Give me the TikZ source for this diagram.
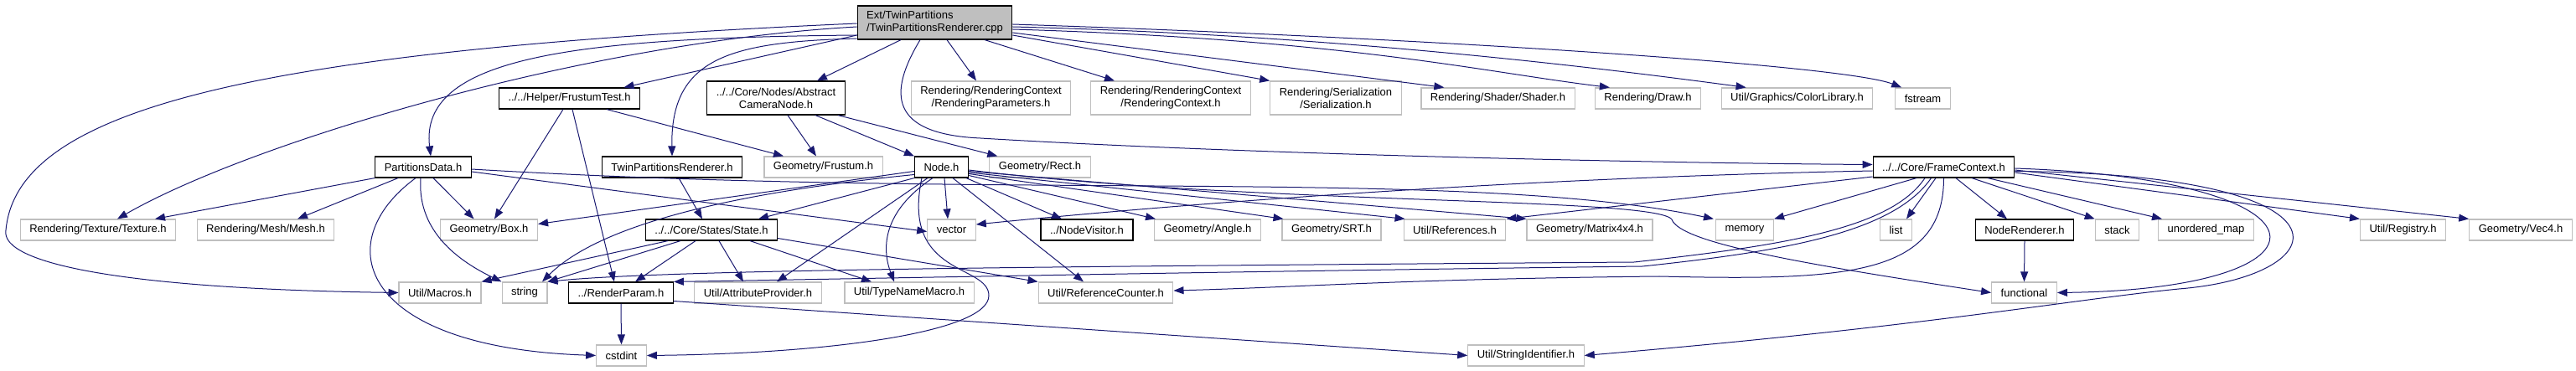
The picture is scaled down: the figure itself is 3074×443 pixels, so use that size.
\documentclass[tikz,border=0pt]{standalone}
\usepackage{fontspec}
\setsansfont{Liberation Sans}
\usetikzlibrary{arrows.meta}
\definecolor{edgeblue}{HTML}{191970}
\definecolor{extgrey}{HTML}{BFBFBF}
\definecolor{rootgrey}{HTML}{BFBFBF}

\begin{document}
\begin{tikzpicture}[
  x=1pt, y=-1pt,
  font=\sffamily\fontsize{13}{15}\selectfont,
  hdr/.style={draw=black, rectangle, line width=1.2pt, minimum height=25pt, inner xsep=11pt, inner ysep=2pt},
  ext/.style={hdr, draw=extgrey},
  twoline/.style={minimum height=40pt, align=center},
  rootbox/.style={hdr, fill=rootgrey, minimum height=40pt, align=left},
  dep/.style={draw=edgeblue, line width=1pt, -{Triangle[length=12pt, width=9pt]}}
]
\useasboundingbox (0,0) rectangle (3074,443);

\node[rootbox] (root) at (1115.5,27) {Ext/TwinPartitions\\/TwinPartitionsRenderer.cpp};

\node[hdr] (frustumtest) at (679.5,117.5) {../../Helper/FrustumTest.h};
\node[hdr, twoline] (camnode) at (926,117) {../../Core/Nodes/Abstract\\CameraNode.h};
\node[ext, twoline] (renparams) at (1182.5,117) {Rendering/RenderingContext\\/RenderingParameters.h};
\node[ext, twoline] (rencontext) at (1397,117) {Rendering/RenderingContext\\/RenderingContext.h};
\node[ext, twoline] (serial) at (1594,117) {Rendering/Serialization\\/Serialization.h};
\node[ext] (shader) at (1787.5,117.5) {Rendering/Shader/Shader.h};
\node[ext] (draw) at (1966.5,117.5) {Rendering/Draw.h};
\node[ext] (colorlib) at (2144.5,117.5) {Util/Graphics/ColorLibrary.h};
\node[ext] (fstream) at (2294.5,117.5) {fstream};

\node[hdr] (partdata) at (505,199.5) {PartitionsData.h};
\node[hdr] (twinrend) at (802,199.5) {TwinPartitionsRenderer.h};
\node[ext] (frustum) at (982.5,199.5) {Geometry/Frustum.h};
\node[hdr] (nodeh) at (1123.5,199.5) {Node.h};
\node[ext] (rect) at (1241,199.5) {Geometry/Rect.h};
\node[hdr] (framectx) at (2319.5,199.5) {../../Core/FrameContext.h};

\node[ext] (texture) at (117,274.5) {Rendering/Texture/Texture.h};
\node[ext] (mesh) at (317,274.5) {Rendering/Mesh/Mesh.h};
\node[ext] (box) at (583.5,274.5) {Geometry/Box.h};
\node[hdr] (state) at (849,274.5) {../../Core/States/State.h};
\node[ext] (vector) at (1135.5,274.5) {vector};
\node[hdr] (nodevisitor) at (1297,274.5) {../NodeVisitor.h};
\node[ext] (angle) at (1441,274.5) {Geometry/Angle.h};
\node[ext] (srt) at (1589,274.5) {Geometry/SRT.h};
\node[ext] (references) at (1736,274.5) {Util/References.h};
\node[ext] (matrix) at (1897,274.5) {Geometry/Matrix4x4.h};
\node[ext] (memory) at (2082,274.5) {memory};
\node[ext] (list) at (2262.5,274.5) {list};
\node[hdr] (noderend) at (2416,274.5) {NodeRenderer.h};
\node[ext] (stack) at (2526.5,274.5) {stack};
\node[ext] (umap) at (2632.5,274.5) {unordered\_map};
\node[ext] (registry) at (2867.5,274.5) {Util/Registry.h};
\node[ext] (vec4) at (3008,274.5) {Geometry/Vec4.h};

\node[ext] (macros) at (525,349.5) {Util/Macros.h};
\node[ext] (string) at (626,349.5) {string};
\node[hdr] (renderparam) at (741,349.5) {../RenderParam.h};
\node[ext] (attrprov) at (904.5,349.5) {Util/AttributeProvider.h};
\node[ext] (typename) at (1085,349.5) {Util/TypeNameMacro.h};
\node[ext] (refcounter) at (1319.5,349.5) {Util/ReferenceCounter.h};
\node[ext] (functional) at (2415.5,349.5) {functional};

\node[ext] (cstdint) at (741.5,424.5) {cstdint};
\node[ext] (stringid) at (1821,424.5) {Util/StringIdentifier.h};

\draw[dep] ([yshift=-15pt]root.west) .. controls +(-342,3) and +(-14,-117) .. ([xshift=9pt]partdata.north);
\draw[dep] ([yshift=-15pt]root.west) -- ([xshift=65pt]frustumtest.north);
\draw[dep] ([xshift=-40.5pt]root.south) -- ([xshift=49pt]camnode.north);
\draw[dep] ([yshift=-19pt]root.west) .. controls +(-152,4) and +(-2,-117) .. (twinrend.north);
\draw[dep] ([xshift=14.5pt]root.south) -- ([xshift=-17.5pt]renparams.north);
\draw[dep] ([xshift=59.5pt]root.south) -- ([xshift=-67pt]rencontext.north);
\draw[dep] ([yshift=-15pt]root.east) -- (serial.north west);
\draw[dep] ([yshift=-12pt]root.east) -- ([xshift=28pt]shader.north west);
\draw[dep] ([yshift=-8pt]root.east) .. controls +(400,12) and +(-150,-18) .. ([xshift=18pt]draw.north west);
\draw[dep] ([yshift=-5pt]root.east) .. controls +(400,10) and +(-150,-20) .. ([xshift=30pt]colorlib.north west);
\draw[dep] ([yshift=-2pt]root.east) .. controls +(490,16) and +(-70,-27) .. ([xshift=8pt]fstream.north west);
\draw[dep] ([xshift=-17.5pt]root.south) .. controls +(-38,63) and +(-110,-5) .. (1170,165) .. controls +(330,20) and +(-233,-1.5) .. ([yshift=3pt]framectx.west);
\draw[dep] ([yshift=-5pt]root.west) .. controls +(-322,18) and +(160,-92) .. ([xshift=23pt]texture.north);
\draw[dep] ([yshift=-1pt]root.west) .. controls +(-722,32) and +(13,-145) .. (7,275) .. controls +(-7,40) and +(-325,-4.5) .. (macros.west);

\draw[dep] (partdata.south west) -- ([xshift=68pt]texture.north);
\draw[dep] ([xshift=-30pt]partdata.south) -- ([xshift=38pt]mesh.north);
\draw[dep] ([xshift=12pt]partdata.south) -- ([xshift=-18pt]box.north);
\draw[dep] ([xshift=-3pt]partdata.south) .. controls +(-4,58) and +(-60,-29) .. (string.north west);
\draw[dep] ([xshift=-9pt]partdata.south) .. controls +(-106,78) and +(-281,-9.5) .. (cstdint.west);
\draw[dep] ([yshift=-5.5pt]partdata.east) -- ([yshift=-2pt]vector.west);
\draw[dep] ([yshift=-2.5pt]partdata.east) .. controls +(637,38) and +(-295,-62) .. ([xshift=-2pt]memory.north west);

\draw[dep] ([xshift=-7.5pt]frustumtest.south) -- ([xshift=6.5pt]box.north);
\draw[dep] ([xshift=3.5pt]frustumtest.south) -- ([xshift=-8pt]renderparam.north);
\draw[dep] ([xshift=44.5pt]frustumtest.south) -- ([xshift=-47.5pt]frustum.north);

\draw[dep] ([xshift=14pt]camnode.south) -- ([xshift=-8.5pt]frustum.north);
\draw[dep] ([xshift=47pt]camnode.south) -- (nodeh.north west);
\draw[dep] ([xshift=74pt]camnode.south) -- ([xshift=10pt]rect.north west);

\draw[dep] ([xshift=8pt]twinrend.south) -- ([xshift=-11pt]state.north);

\draw[dep] (nodeh.south west) -- ([xshift=56pt]state.north);
\draw[dep] ([yshift=-5pt]nodeh.west) -- ([yshift=7pt]box.east);
\draw[dep] ([yshift=-9pt]nodeh.west) .. controls +(-250,25) and +(60,-60) .. ([xshift=21pt]string.north);
\draw[dep] ([xshift=3.5pt]nodeh.south) -- ([xshift=-4.5pt]vector.north);
\draw[dep] ([xshift=-3pt]nodeh.south east) -- ([xshift=-30pt]nodevisitor.north);
\draw[dep] ([yshift=-10pt]nodeh.east) -- ([xshift=2pt]angle.north west);
\draw[dep] ([yshift=-8pt]nodeh.east) -- ([xshift=2pt]srt.north west);
\draw[dep] ([yshift=-6.5pt]nodeh.east) -- ([xshift=2pt]references.north west);
\draw[dep] ([yshift=-5pt]nodeh.east) -- (matrix.north west);
\draw[dep] ([yshift=-3.5pt]nodeh.east) .. controls +(344,42) and +(-20,-27) .. (1995,262) .. controls +(10,28) and +(-226,-34.5) .. (functional.west);
\draw[dep] ([xshift=-16.5pt]nodeh.south) -- ([xshift=22.5pt]attrprov.north);
\draw[dep] ([xshift=-10.5pt]nodeh.south) .. controls +(-60,40) and +(-15,-40) .. ([xshift=-18pt]typename.north);
\draw[dep] ([xshift=13.5pt]nodeh.south) -- ([xshift=-26.5pt]refcounter.north);
\draw[dep] ([xshift=-23.5pt]nodeh.south) .. controls +(-25,118) and +(0,-38) .. (1180,353) .. controls +(0,42) and +(228,-2.5) .. (cstdint.east);

\draw[dep] ([xshift=-52pt]state.south) -- (macros.north east);
\draw[dep] ([xshift=-37pt]state.south) -- (string.north east);
\draw[dep] ([xshift=-19pt]state.south) -- ([xshift=17pt]renderparam.north);
\draw[dep] ([xshift=9pt]state.south) -- ([xshift=-17.5pt]attrprov.north);
\draw[dep] ([xshift=46pt]state.south) -- ([xshift=-45pt]typename.north);
\draw[dep] ([yshift=-10pt]state.east) -- (refcounter.north west);

\draw[dep] ([yshift=-4.5pt]framectx.west) .. controls +(-500,10) and +(150,-15) .. ([yshift=6.5pt]vector.east);
\draw[dep] ([yshift=-11.5pt]framectx.west) -- (references.north east);
\draw[dep] ([xshift=-32.5pt]framectx.south) -- (memory.north east);
\draw[dep] ([xshift=-9.5pt]framectx.south) -- ([xshift=12.5pt]list.north);
\draw[dep] ([xshift=14.5pt]framectx.south) -- ([xshift=-21pt]noderend.north);
\draw[dep] ([xshift=33.5pt]framectx.south) -- (stack.north west);
\draw[dep] ([xshift=52.5pt]framectx.south) -- ([xshift=5pt]umap.north west);
\draw[dep] ([yshift=-6.5pt]framectx.east) -- (registry.north west);
\draw[dep] ([yshift=-3.5pt]framectx.east) -- (vec4.north west);
\draw[dep] ([yshift=-1.5pt]framectx.east) .. controls +(394,13.5) and +(345,-4.5) .. (functional.east);
\draw[dep] ([yshift=-5pt]framectx.east) .. controls +(424,3.5) and +(190,-15) .. (2600,345) .. controls +(-130,13) and +(408,-34.5) .. (stringid.east);
\draw[dep] ([xshift=-22.5pt]framectx.south) .. controls +(-40,60) and +(180,-20) .. (1950,313) .. controls +(-650,5) and +(147,-15) .. (string.north east);
\draw[dep] ([xshift=-15pt]framectx.south) .. controls +(-45,65) and +(170,-18) .. (1960,318) .. controls +(-560,7) and +(196,-3) .. (renderparam.north east);
\draw[dep] (framectx.south) .. controls +(0,118) and +(220,5) .. (1980,330) .. controls +(-300,3) and +(150,-4) .. ([yshift=2.5pt]refcounter.east);

\draw[dep] (renderparam.south) -- (cstdint.north);
\draw[dep] ([yshift=-10pt]renderparam.east) -- (stringid.west);
\draw[dep] (noderend.south) -- (functional.north);
\end{tikzpicture}
\end{document}
